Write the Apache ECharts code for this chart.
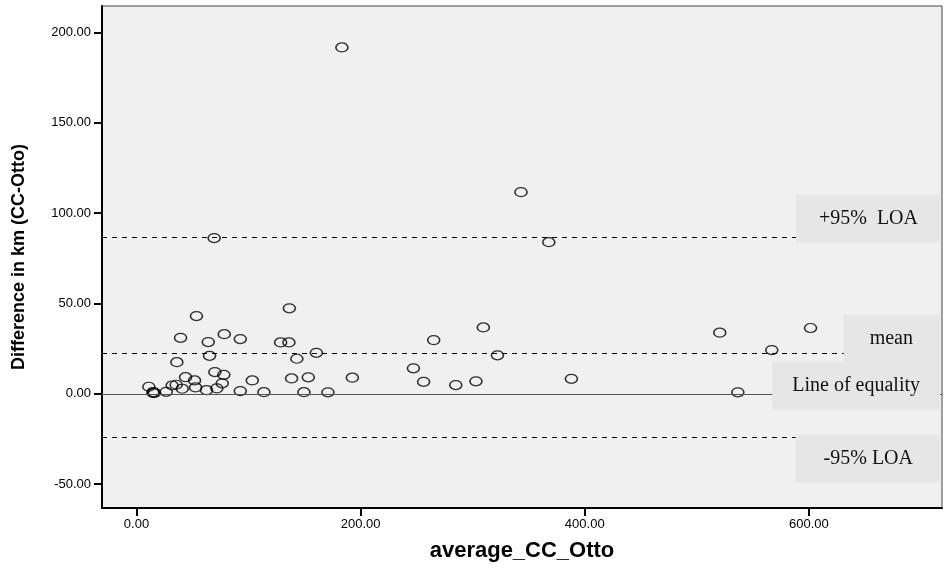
<!DOCTYPE html>
<html>
<head>
<meta charset="utf-8">
<script src="https://cdn.jsdelivr.net/npm/echarts@6/dist/echarts.min.js"></script>
<style>
html,body{margin:0;padding:0;background:#fff;}
#chart{width:948px;height:571px;}
</style>
</head>
<body>
<div id="chart"></div>
<script>
// average of the two methods (x) and difference (y)
const averageValues = [11.0, 14.6, 16.0, 15.2, 26.5, 31.8, 35.4, 36.0, 39.3, 40.8, 43.8, 51.8, 52.7, 53.5, 62.5, 64.0, 65.2, 69.9, 71.7, 76.5, 78.3, 77.9, 92.6, 92.6, 103.3, 113.7, 128.6, 136.0, 136.4, 143.1, 138.4, 149.4, 153.3, 160.5, 170.8, 192.6, 183.3, 265.2, 247.1, 256.2, 284.9, 302.9, 309.5, 322.1, 388.1, 520.5, 536.6, 566.9, 601.5, 343.1, 367.9, 69.3];
const differenceValues = [3.9, 0.9, 0.6, 0.3, 1.1, 4.6, 5.0, 17.5, 31.0, 2.8, 9.2, 7.4, 3.5, 43.0, 2.0, 28.6, 21.0, 12.0, 3.0, 5.8, 33.0, 10.5, 1.5, 30.3, 7.4, 0.9, 28.4, 28.4, 47.3, 19.4, 8.5, 0.9, 9.1, 22.7, 0.8, 8.9, 191.7, 29.7, 14.1, 6.6, 4.8, 6.9, 36.7, 21.3, 8.3, 33.8, 0.8, 24.2, 36.4, 111.6, 83.9, 86.2];
const refNames = ['+95%  LOA', 'mean', 'Line of equality', '-95% LOA'];
const refValues = [86.4, 22.2, 0, -24.2];
const xTicks = [0, 200, 400, 600];
const yTicks = [-50, 0, 50, 100, 150, 200];

const points = averageValues.map((x, i) => [x, differenceValues[i]]);

const refStyles = [
  {position: 'insideEndTop', distance: [2, -5], padding: [14, 22, 14, 23], type: [5, 5], color: '#000'},
  {position: 'insideEndTop', distance: [2, -9], padding: [14, 27, 14, 26], type: [5, 5], color: '#000'},
  {position: 'insideEndBottom', distance: [2, -32], padding: [14, 20, 14, 20], type: 'solid', color: '#555'},
  {position: 'insideEndBottom', distance: [2, -3], padding: [14, 27, 14, 28], type: [5, 5], color: '#000'}
];

const markData = refNames.map((n, i) => ({
  name: n,
  yAxis: refValues[i],
  lineStyle: {type: refStyles[i].type, color: refStyles[i].color, width: 1},
  label: {
    show: true,
    formatter: n,
    position: refStyles[i].position,
    distance: refStyles[i].distance,
    padding: refStyles[i].padding,
    backgroundColor: '#e6e6e6',
    color: '#111',
    fontFamily: 'Liberation Serif, Times New Roman, serif',
    fontSize: 20,
    lineHeight: 20
  }
}));

const sansFont = 'Liberation Sans, Arial, sans-serif';

const chart = echarts.init(document.getElementById('chart'), null, {renderer: 'canvas'});
chart.setOption({
  animation: false,
  backgroundColor: '#fff',
  grid: {left: 102, right: 6, top: 6, bottom: 63, show: true, backgroundColor: '#f0f0f0', borderColor: '#444', borderWidth: 1},
  xAxis: {
    type: 'value', min: -30.8, max: 718.8,
    name: 'average_CC_Otto', nameLocation: 'middle', nameGap: 32,
    nameTextStyle: {fontFamily: sansFont, fontWeight: 'bold', fontSize: 22, color: '#000'},
    axisLine: {show: true, onZero: false, lineStyle: {color: '#000', width: 2}},
    axisTick: {show: true, length: 8, lineStyle: {color: '#000', width: 2}, customValues: xTicks},
    axisLabel: {customValues: xTicks, formatter: v => v.toFixed(2), fontFamily: sansFont, fontSize: 13, color: '#000', margin: 10},
    splitLine: {show: false}
  },
  yAxis: {
    type: 'value', min: -63.2, max: 214.6,
    name: 'Difference in km (CC-Otto)', nameLocation: 'middle', nameGap: 74,
    nameTextStyle: {fontFamily: sansFont, fontWeight: 'bold', fontSize: 18, color: '#000'},
    axisLine: {show: true, onZero: false, lineStyle: {color: '#000', width: 2}},
    axisTick: {show: true, length: 8, lineStyle: {color: '#000', width: 2}, customValues: yTicks},
    axisLabel: {customValues: yTicks, formatter: v => v.toFixed(2), fontFamily: sansFont, fontSize: 13, color: '#000', margin: 11},
    splitLine: {show: false}
  },
  series: [{
    type: 'scatter',
    data: points,
    symbol: 'circle',
    symbolSize: [12, 9],
    itemStyle: {color: 'rgba(0,0,0,0)', borderColor: '#000', borderWidth: 1.4},
    silent: true,
    markLine: {
      silent: true,
      symbol: ['none', 'none'],
      animation: false,
      data: markData
    }
  }]
});
</script>
</body>
</html>
